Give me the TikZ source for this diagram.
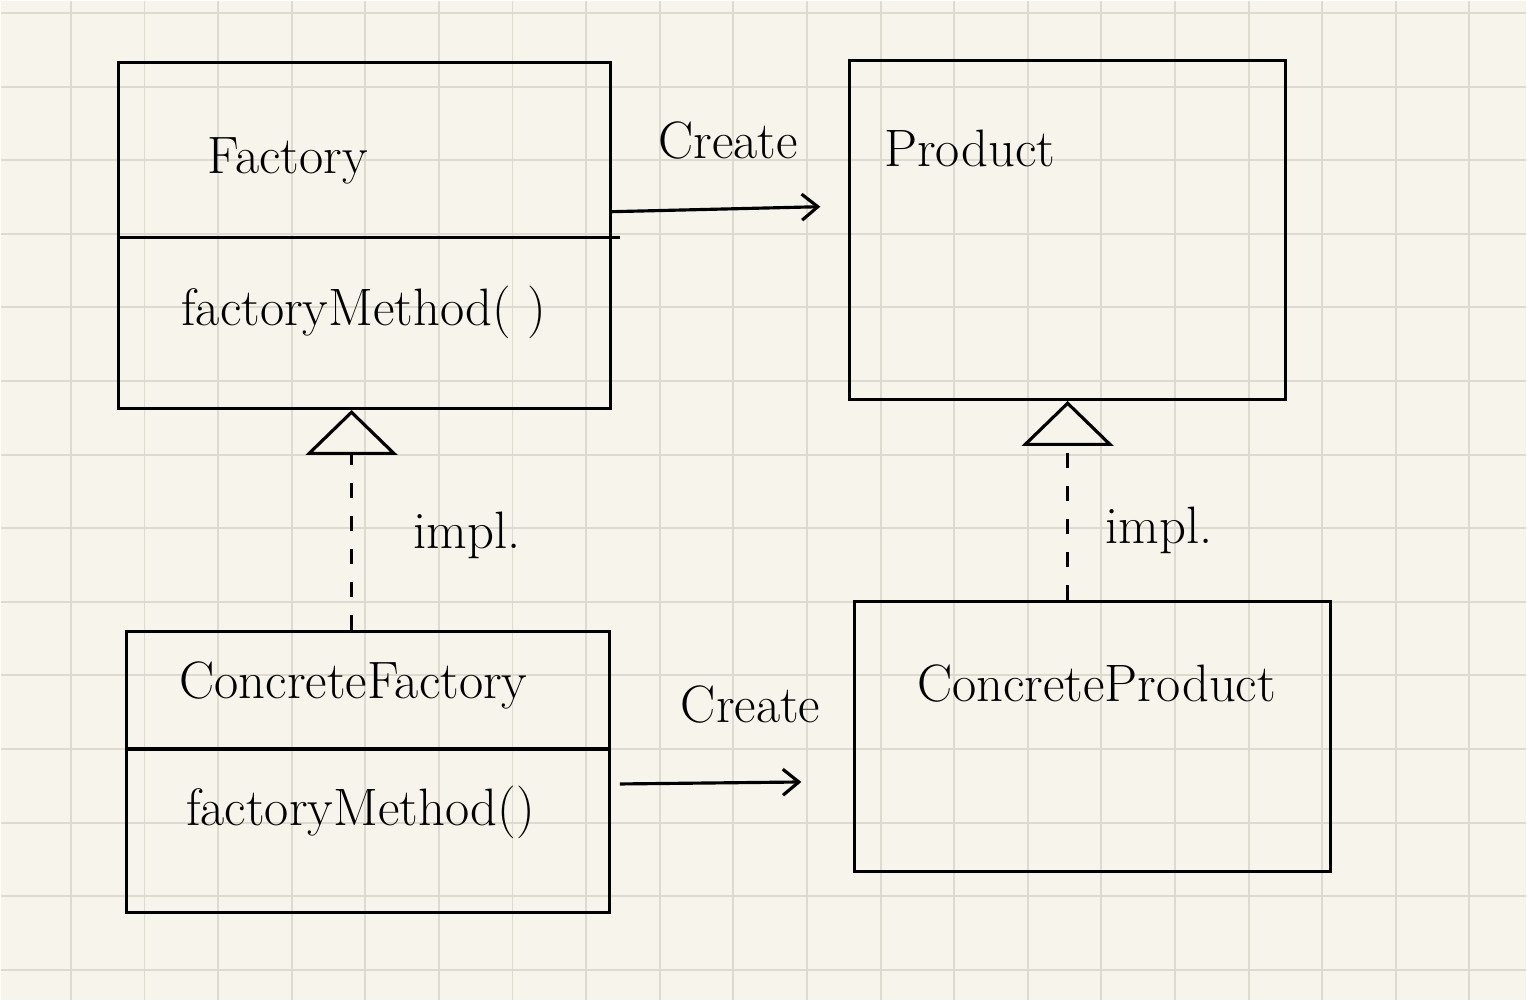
\documentclass[tikz,border=0pt]{standalone}
\usetikzlibrary{arrows.meta}
\definecolor{paper}{HTML}{F7F5EB}
\definecolor{gridline}{HTML}{DDDBD0}
\begin{document}
\begin{tikzpicture}[x=1cm,y=1cm]
\tikzstyle{umlbox} = [draw, line width=0.9pt, rectangle, inner sep=0pt] % рамка класса
\tikzstyle{hand} = [font=\fontsize{15}{18}\selectfont, inner sep=1pt] % надписи
\tikzstyle{createarrow} = [line width=0.9pt, -{Straight Barb[length=1.6mm,width=2.6mm]}]
\tikzstyle{impl} = [line width=0.9pt, dash pattern=on 1.5mm off 1.8mm, -{Triangle[open,length=4.5mm,width=9.2mm,line width=0.9pt]}]

% бумага в клетку
\fill[paper] (0,0) rectangle (15.27,-10);
\foreach \k in {0,...,19}
  \draw[gridline, line width=0.55pt] (0.70+0.737*\k,0) -- (0.70+0.737*\k,-10);
\foreach \k in {0,...,13}
  \draw[gridline, line width=0.55pt] (0,-0.12-0.737*\k) -- (15.27,-0.12-0.737*\k);
\useasboundingbox (0,0) rectangle (15.27,-10);

% классы
\node[umlbox, minimum width=4.92cm, minimum height=3.46cm] (factory) at (3.64,-2.35) {};
\node[umlbox, minimum width=4.36cm, minimum height=3.39cm] (product) at (10.68,-2.295) {};
\node[umlbox, minimum width=4.83cm, minimum height=2.82cm] (cfactory) at (3.675,-7.72) {};
\node[umlbox, minimum width=4.76cm, minimum height=2.71cm] (cproduct) at (10.93,-7.365) {};

\draw[line width=0.9pt] (factory.west |- 0,-2.37) -- ([xshift=0.08cm]factory.east |- 0,-2.37);
\draw[line width=0.9pt] (cfactory.west |- 0,-7.49) -- (cfactory.east |- 0,-7.49);

\node[hand] (factoryname) at (2.87,-1.60) {Factory};
\node[hand] (factorymethod) at (3.63,-3.12) {factoryMethod( )};
\node[hand] (productname) at (9.70,-1.48) {Product};
\node[hand] (cfactoryname) at (3.53,-6.85) {ConcreteFactory};
\node[hand] (cfactorymethod) at (3.60,-8.12) {factoryMethod()};
\node[hand] (cproductname) at (10.97,-6.83) {ConcreteProduct};

% связи
\draw[createarrow] ([yshift=0.24cm]factory.east) -- ([xshift=-0.28cm,yshift=0.235cm]product.west)
  node[hand, midway, above=0.45cm, xshift=0.12cm] (create1) {Create};
\draw[createarrow] ([xshift=0.09cm,yshift=-0.12cm]cfactory.east) -- ([xshift=-0.52cm,yshift=-0.455cm]cproduct.west)
  node[hand, midway, above=0.55cm, xshift=0.4cm] (create2) {Create};

\draw[impl] ([xshift=-0.13cm]factory.south |- cfactory.north) -- ([xshift=-0.13cm]factory.south)
  node[hand, pos=0.43, right=0.57cm] (impl1) {impl.};
\draw[impl] (product.south |- cproduct.north) -- (product.south)
  node[hand, pos=0.35, right=0.33cm] (impl2) {impl.};
\end{tikzpicture}
\end{document}
